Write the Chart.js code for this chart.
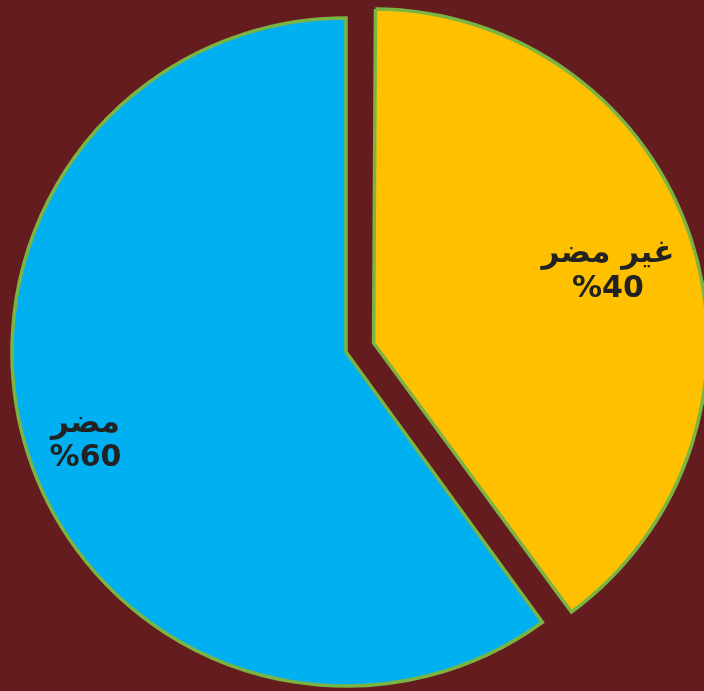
<!DOCTYPE html>
<html>
<head>
<meta charset="utf-8">
<script src="https://cdn.jsdelivr.net/npm/chart.js@4"></script>
<style>
  html, body { margin: 0; padding: 0; background: #651c1f; }
  #wrap { width: 704px; height: 691px; }
</style>
</head>
<body>
<div id="wrap"><canvas id="myChart"></canvas></div>
<script>
// slice names and shares (%)
const labels = ['غير مضر', 'مضر']
const shares = [40, 60]
const colors = ['#ffc000', '#00b0f0']

// Chart.js grows an offset arc's radius a bit, undo that so both slices keep the same size
const keepRadius = {
  id: 'keepRadius',
  afterDatasetUpdate(chart, args) {
    args.meta.data.forEach(function (arc) {
      const off = (arc.options.offset || 0) / 4
      if (off) {
        arc.outerRadius -= off * (1 - Math.sin(Math.min(Math.PI, arc.circumference)))
      }
    })
  }
}

// two-line labels: name + percent
const sliceLabels = {
  id: 'sliceLabels',
  afterDatasetsDraw(chart, args, opts) {
    const ctx = chart.ctx
    const meta = chart.getDatasetMeta(0)
    meta.data.forEach(function (arc, i) {
      const mid = (arc.startAngle + arc.endAngle) / 2
      const d = (arc.options.offset || 0) / 4 + arc.outerRadius * opts.dist[i]
      const x = arc.x + Math.cos(mid) * d
      const y = arc.y + Math.sin(mid) * d
      ctx.save()
      ctx.fillStyle = '#222222'
      ctx.textAlign = 'center'
      ctx.textBaseline = 'middle'
      ctx.font = 'bold 31px "DejaVu Sans", sans-serif'
      ctx.fillText(labels[i], x, y - 13)
      ctx.font = 'bold 30px "DejaVu Sans", sans-serif'
      ctx.fillText('%' + shares[i], x, y + 22)
      ctx.restore()
    })
  }
}

const ctx = document.getElementById('myChart')
new Chart(ctx, {
  type: 'pie',
  data: {
    labels: labels,
    datasets: [{
      data: shares,
      backgroundColor: colors,
      borderColor: '#7ab442',
      borderWidth: 3.5,
      borderJoinStyle: 'miter',
      offset: [116, 0],
      clip: false
    }]
  },
  options: {
    responsive: true,
    maintainAspectRatio: false,
    animation: false,
    events: [],
    radius: 334,
    layout: { padding: { left: 0, right: 12, top: 13, bottom: 0 } },
    plugins: {
      legend: { display: false },
      tooltip: { enabled: false },
      sliceLabels: { dist: [0.765, 0.82] }
    }
  },
  plugins: [keepRadius, sliceLabels]
})
</script>
</body>
</html>
